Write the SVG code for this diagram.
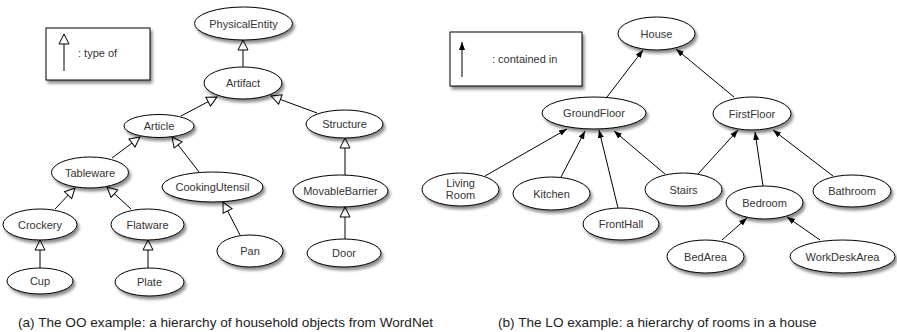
<svg xmlns="http://www.w3.org/2000/svg" width="897" height="332" viewBox="0 0 897 332">
<defs>
<filter id="sh" x="-20%" y="-30%" width="150%" height="180%">
<feDropShadow dx="2" dy="3" stdDeviation="1.8" flood-color="#000" flood-opacity="0.45"/>
</filter>
<marker id="hollow" markerUnits="userSpaceOnUse" markerWidth="12" markerHeight="12" viewBox="0 0 12 12" refX="11" refY="6" orient="auto">
<path d="M1,1 L11,6 L1,11 Z" fill="#fff" stroke="#000" stroke-width="1"/>
</marker>
<marker id="filled" markerUnits="userSpaceOnUse" markerWidth="9" markerHeight="8" viewBox="0 0 9 8" refX="8" refY="4" orient="auto">
<path d="M0,1 L8,4 L0,7 Z" fill="#000"/>
</marker>
</defs>
<style>
.n ellipse{fill:#fff;stroke:#000;stroke-width:1;filter:url(#sh)}
.n text, .lg text{font-family:"Liberation Sans",Arial,sans-serif;font-size:11px;fill:#333;text-anchor:middle}
.lg rect{fill:#fff;stroke:#000;stroke-width:1;filter:url(#sh)}
.lg text{text-anchor:start}
.e line{stroke:#000;stroke-width:1}
.oo line{marker-end:url(#hollow)}
.lo line{marker-end:url(#filled)}
.cap{font-family:"Liberation Sans",Arial,sans-serif;font-size:13.6px;fill:#222}
</style>

<g id="legend-oo" class="lg">
<rect x="46" y="28" width="104" height="52"/>
<g class="e oo"><line x1="64" y1="71" x2="64" y2="34"/></g>
<text x="78" y="57">: type of</text>
</g>
<g id="legend-lo" class="lg">
<rect x="450" y="32" width="132" height="54"/>
<g class="e lo"><line x1="462" y1="77" x2="462" y2="42"/></g>
<text x="492" y="63">: contained in</text>
</g>

<g id="connectors" class="e">
<g class="oo">
<line x1="243" y1="67" x2="243" y2="40"/>
<line x1="181" y1="116" x2="217" y2="97"/>
<line x1="317" y1="113" x2="271" y2="96"/>
<line x1="112" y1="158" x2="140" y2="137"/>
<line x1="199" y1="172" x2="172" y2="137"/>
<line x1="55" y1="209" x2="75" y2="188"/>
<line x1="131" y1="209" x2="107" y2="187"/>
<line x1="40" y1="268" x2="40" y2="240"/>
<line x1="148" y1="268" x2="148" y2="240"/>
<line x1="240" y1="235" x2="223" y2="202"/>
<line x1="345" y1="175" x2="345" y2="138"/>
<line x1="345" y1="239" x2="345" y2="207"/>
</g>
<g class="lo">
<line x1="607" y1="97" x2="643" y2="50"/>
<line x1="734" y1="97" x2="676" y2="49"/>
<line x1="485" y1="176" x2="567" y2="129"/>
<line x1="561" y1="177" x2="585" y2="131"/>
<line x1="618" y1="208" x2="599" y2="130"/>
<line x1="665" y1="174" x2="614" y2="131"/>
<line x1="698" y1="174" x2="738" y2="130"/>
<line x1="763" y1="186" x2="755" y2="132"/>
<line x1="833" y1="176" x2="773" y2="130"/>
<line x1="722" y1="240" x2="747" y2="218"/>
<line x1="820" y1="240" x2="787" y2="217"/>
</g>
</g>

<g id="PhysicalEntity" class="n"><ellipse cx="243.5" cy="23.5" rx="49" ry="16.5"/><text x="243.5" y="27.5">PhysicalEntity</text></g>
<g id="Artifact" class="n"><ellipse cx="243" cy="83" rx="39" ry="16"/><text x="243" y="87">Artifact</text></g>
<g id="Article" class="n"><ellipse cx="159" cy="126" rx="35" ry="11.5"/><text x="159" y="130">Article</text></g>
<g id="Structure" class="n"><ellipse cx="344.5" cy="124" rx="38.5" ry="14"/><text x="344.5" y="128">Structure</text></g>
<g id="Tableware" class="n"><ellipse cx="90" cy="172.5" rx="38.5" ry="15.5"/><text x="90" y="176.5">Tableware</text></g>
<g id="CookingUtensil" class="n"><ellipse cx="212.5" cy="187" rx="50.5" ry="15"/><text x="212.5" y="191">CookingUtensil</text></g>
<g id="MovableBarrier" class="n"><ellipse cx="340.5" cy="191" rx="47.5" ry="16"/><text x="340.5" y="195">MovableBarrier</text></g>
<g id="Crockery" class="n"><ellipse cx="40" cy="224.5" rx="37" ry="15.5"/><text x="40" y="228.5">Crockery</text></g>
<g id="Flatware" class="n"><ellipse cx="147.5" cy="224.5" rx="36.5" ry="15.5"/><text x="147.5" y="228.5">Flatware</text></g>
<g id="Cup" class="n"><ellipse cx="40" cy="281" rx="33" ry="13"/><text x="40" y="285">Cup</text></g>
<g id="Plate" class="n"><ellipse cx="149.5" cy="282" rx="34.5" ry="14"/><text x="149.5" y="286">Plate</text></g>
<g id="Pan" class="n"><ellipse cx="250" cy="251" rx="33" ry="16"/><text x="250" y="255">Pan</text></g>
<g id="Door" class="n"><ellipse cx="344" cy="253" rx="37" ry="14"/><text x="344" y="257">Door</text></g>

<g id="House" class="n"><ellipse cx="656.5" cy="33.5" rx="38.5" ry="16.5"/><text x="656.5" y="37.5">House</text></g>
<g id="GroundFloor" class="n"><ellipse cx="594" cy="113" rx="52" ry="16"/><text x="594" y="117">GroundFloor</text></g>
<g id="FirstFloor" class="n"><ellipse cx="752" cy="113.5" rx="39" ry="16.5"/><text x="752" y="117.5">FirstFloor</text></g>
<g id="LivingRoom" class="n"><ellipse cx="460.5" cy="189.5" rx="38.5" ry="16.5"/><text x="460.5" y="186.5">Living</text><text x="460.5" y="199">Room</text></g>
<g id="Kitchen" class="n"><ellipse cx="551.5" cy="193.5" rx="38.5" ry="16.5"/><text x="551.5" y="197.5">Kitchen</text></g>
<g id="FrontHall" class="n"><ellipse cx="621" cy="224" rx="38" ry="16"/><text x="621" y="228">FrontHall</text></g>
<g id="Stairs" class="n"><ellipse cx="683.5" cy="189.5" rx="38.5" ry="16.5"/><text x="683.5" y="193.5">Stairs</text></g>
<g id="Bedroom" class="n"><ellipse cx="764.5" cy="202.5" rx="38.5" ry="16.5"/><text x="764.5" y="206.5">Bedroom</text></g>
<g id="Bathroom" class="n"><ellipse cx="852" cy="191" rx="39" ry="16"/><text x="852" y="195">Bathroom</text></g>
<g id="BedArea" class="n"><ellipse cx="705.5" cy="256.5" rx="38.5" ry="16.5"/><text x="705.5" y="260.5">BedArea</text></g>
<g id="WorkDeskArea" class="n"><ellipse cx="842.5" cy="256.5" rx="52.5" ry="16.5"/><text x="842.5" y="260.5">WorkDeskArea</text></g>

<text class="cap" x="18" y="327">(a) The OO example: a hierarchy of household objects from WordNet</text>
<text class="cap" x="498" y="327">(b) The LO example: a hierarchy of rooms in a house</text>
</svg>
